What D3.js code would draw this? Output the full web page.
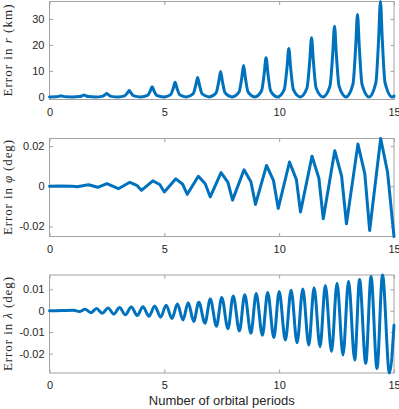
<!DOCTYPE html>
<html>
<head>
<meta charset="utf-8">
<script src="https://cdn.jsdelivr.net/npm/d3@7"></script>
<style>
  body { margin: 0; background: #fff; }
  svg { display: block; }
</style>
</head>
<body>
<div class="chart"></div>
<script>
// values
const xTicks = [0, 5, 10, 15]
const rTicks = [0, 10, 20, 30]
const phiTicks = [-0.02, 0, 0.02]
const lamTicks = [-0.02, -0.01, 0, 0.01]

// error in r (km): one spike per orbit
const rX = [0,
  0.3, 0.42, 0.5, 0.58, 0.7, 1.0,
  1.3, 1.42, 1.5, 1.58, 1.7, 2.0,
  2.29, 2.41, 2.49, 2.57, 2.69, 2.99,
  3.27, 3.39, 3.47, 3.55, 3.67, 3.97,
  4.27, 4.39, 4.47, 4.55, 4.67, 4.97,
  5.27, 5.39, 5.47, 5.55, 5.67, 5.96,
  6.25, 6.37, 6.45, 6.53, 6.65, 6.95,
  7.25, 7.37, 7.45, 7.53, 7.65, 7.95,
  8.25, 8.37, 8.45, 8.53, 8.65, 8.94,
  9.23, 9.35, 9.43, 9.51, 9.63, 9.93,
  10.22, 10.34, 10.42, 10.5, 10.62, 10.92,
  11.21, 11.33, 11.41, 11.49, 11.61, 11.91,
  12.21, 12.33, 12.41, 12.49, 12.61, 12.91,
  13.21, 13.33, 13.41, 13.49, 13.61, 13.91,
  14.21, 14.33, 14.41, 14.49, 14.61, 14.92,
  15]
const rY = [0,
  0.06, 0.24, 0.4, 0.24, 0.06, 0,
  0.11, 0.42, 0.7, 0.42, 0.11, 0,
  0.2, 0.78, 1.3, 0.78, 0.2, 0,
  0.38, 1.5, 2.5, 1.5, 0.38, 0,
  0.59, 2.34, 3.9, 2.34, 0.59, 0,
  0.84, 3.36, 5.6, 3.36, 0.84, 0,
  1.13, 4.5, 7.5, 4.5, 1.13, 0,
  1.47, 5.88, 9.8, 5.88, 1.47, 0,
  1.82, 7.26, 12.1, 7.26, 1.82, 0,
  2.27, 9.06, 15.1, 9.06, 2.27, 0,
  2.79, 11.16, 18.6, 11.16, 2.79, 0,
  3.42, 13.68, 22.8, 13.68, 3.42, 0,
  4.08, 16.32, 27.2, 16.32, 4.08, 0,
  4.76, 19.02, 31.7, 19.02, 4.76, 0,
  5.5, 22.02, 36.7, 22.02, 5.5, 0,
  0.3]

// error in phi (deg): zigzag
const phiX = [0, 0.5, 1.0, 1.2, 1.7, 2.1, 2.5, 3.0, 3.5, 3.8, 4.0, 4.5, 4.8, 5.0,
  5.5, 5.8, 6.0, 6.48, 6.78, 7.0, 7.47, 7.77, 7.97, 8.47, 8.77, 8.97,
  9.45, 9.75, 9.96, 10.45, 10.75, 10.93, 11.43, 11.73, 11.92, 12.42, 12.72, 12.93,
  13.43, 13.73, 13.94, 14.42, 14.72, 15.0]
const phiY = [0, 0.0001, 0, -0.0002, 0.0008, -0.0005, 0.0013, -0.0012, 0.0020, 0.0005, -0.0020,
  0.0027, 0.0009, -0.0028, 0.0037, 0.0010, -0.0040, 0.0050, 0.0013, -0.0053,
  0.0068, 0.0019, -0.0069, 0.0082, 0.0023, -0.0090, 0.0104, 0.0030, -0.0110,
  0.0121, 0.0033, -0.0128, 0.0150, 0.0040, -0.0162, 0.0177, 0.0050, -0.0187,
  0.0210, 0.0062, -0.0220, 0.0238, 0.0070, -0.0250]

// error in lambda (deg): two swings per orbit
const lamX = [0, 0.55, 1.05, 1.3, 1.55, 1.8, 2.05, 2.3, 2.55, 2.8, 3.05, 3.3, 3.56, 3.82,
  4.07, 4.33, 4.58, 4.84, 5.08, 5.33, 5.57, 5.81, 6.04, 6.28, 6.5, 6.77,
  7.0, 7.27, 7.5, 7.77, 8.0, 8.27, 8.5, 8.77, 9.0, 9.27, 9.5, 9.77,
  10.0, 10.27, 10.52, 10.78, 11.03, 11.29, 11.52, 11.78, 12.01, 12.28,
  12.52, 12.78, 13.02, 13.29, 13.5, 13.77, 14.0, 14.26, 14.5, 14.8, 15.0]
const lamY = [0, 0.0001, 0.0002, -0.0004, 0.0007, -0.0009, 0.0010, -0.0012, 0.0013, -0.0016,
  0.0015, -0.0019, 0.0017, -0.0022, 0.0019, -0.0026, 0.0022, -0.0030, 0.0026, -0.0036,
  0.0031, -0.0043, 0.0037, -0.0050, 0.0040, -0.0058, 0.0055, -0.0072, 0.0062, -0.0084,
  0.0069, -0.0095, 0.0075, -0.0105, 0.0080, -0.0115, 0.0085, -0.0125, 0.0090, -0.0137,
  0.0096, -0.0150, 0.0101, -0.0160, 0.0107, -0.0168, 0.0118, -0.0190, 0.0128, -0.0207,
  0.0138, -0.0230, 0.0146, -0.0246, 0.0160, -0.0270, 0.0167, -0.0291, -0.0068]

const colors = {
  line: "#0072BD",
  box: "#a3a3a3",
  text: "#262626"
}

const dims = {
  width: 399,
  height: 409,
  left: 49.5,
  right: 394,
  panelHeight: 98,
  tops: [1.5, 138.5, 275]
}

const panels = [
  {xs: rX, ys: rY, domain: [-1, 36.7], ticks: rTicks, fmt: d3.format("d"),
   label: ["Error in ", "r", " (km)"], labelLen: 92, curve: d3.curveMonotoneX},
  {xs: phiX, ys: phiY, domain: [-0.025, 0.0238], ticks: phiTicks,
   fmt: d => d === 0 ? "0" : d.toFixed(2),
   label: ["Error in ", "\u03C6", " (deg)"], labelLen: 95, curve: d3.curveLinear},
  {xs: lamX, ys: lamY, domain: [-0.0291, 0.0167], ticks: lamTicks,
   fmt: d => d === 0 ? "0" : d.toFixed(2),
   label: ["Error in ", "\u03BB", " (deg)"], labelLen: 94, curve: d3.curveMonotoneX}
]

const svg = d3.select(".chart")
  .append("svg")
    .attr("width", dims.width)
    .attr("height", dims.height)

const xScale = d3.scaleLinear()
  .domain([0, 15])
  .range([dims.left, dims.right])

const sansFont = "'Liberation Sans', Arial, Helvetica, sans-serif"
const serifFont = "'Liberation Serif', 'Times New Roman', serif"

panels.forEach((p, i) => {
  const top = dims.tops[i]
  const bottom = top + dims.panelHeight

  const yScale = d3.scaleLinear()
    .domain(p.domain)
    .range([bottom, top])

  const g = svg.append("g").attr("class", `panel-${i}`)

  const styleAxis = sel => sel
    .attr("color", colors.box)
    .attr("font-family", sansFont)
    .attr("font-size", 11)
    .call(a => a.select(".domain").remove())
    .call(a => a.selectAll(".tick text").attr("fill", colors.text))

  g.append("g")
    .attr("transform", `translate(${dims.left},0)`)
    .call(d3.axisLeft(yScale).tickValues(p.ticks).tickFormat(p.fmt)
      .tickSize(-3.5).tickPadding(5))
    .call(styleAxis)

  g.append("g")
    .attr("transform", `translate(${dims.right},0)`)
    .call(d3.axisRight(yScale).tickValues(p.ticks).tickFormat("").tickSize(-3.5))
    .call(styleAxis)

  g.append("g")
    .attr("transform", `translate(0,${bottom})`)
    .call(d3.axisBottom(xScale).tickValues(xTicks).tickFormat(d3.format("d"))
      .tickSize(-3.5).tickPadding(8.5))
    .call(styleAxis)

  g.append("g")
    .attr("transform", `translate(0,${top})`)
    .call(d3.axisTop(xScale).tickValues(xTicks).tickFormat("").tickSize(-3.5))
    .call(styleAxis)

  g.append("rect")
    .attr("x", dims.left)
    .attr("y", top)
    .attr("width", dims.right - dims.left)
    .attr("height", dims.panelHeight)
    .attr("fill", "none")
    .attr("stroke", colors.box)
    .attr("stroke-width", 1)

  const line = d3.line()
    .x((d, j) => xScale(p.xs[j]))
    .y(d => yScale(d))
    .curve(p.curve)

  g.append("path")
    .attr("d", line(p.ys))
    .attr("fill", "none")
    .attr("stroke", colors.line)
    .attr("stroke-width", 3)
    .attr("stroke-linejoin", "round")
    .attr("stroke-linecap", "round")

  const label = g.append("text")
    .attr("transform", `translate(11.5,${top + dims.panelHeight / 2}) rotate(-90)`)
    .attr("text-anchor", "middle")
    .attr("font-family", serifFont)
    .attr("font-size", 13)
    .attr("fill", colors.text)
    .attr("textLength", p.labelLen)
    .attr("lengthAdjust", "spacing")
  label.append("tspan").text(p.label[0])
  label.append("tspan").attr("font-style", "italic").text(p.label[1])
  label.append("tspan").text(p.label[2])
})

svg.append("text")
  .attr("x", (dims.left + dims.right) / 2)
  .attr("y", 405)
  .attr("text-anchor", "middle")
  .attr("font-family", sansFont)
  .attr("font-size", 13)
  .attr("fill", colors.text)
  .text("Number of orbital periods")
</script>
</body>
</html>
